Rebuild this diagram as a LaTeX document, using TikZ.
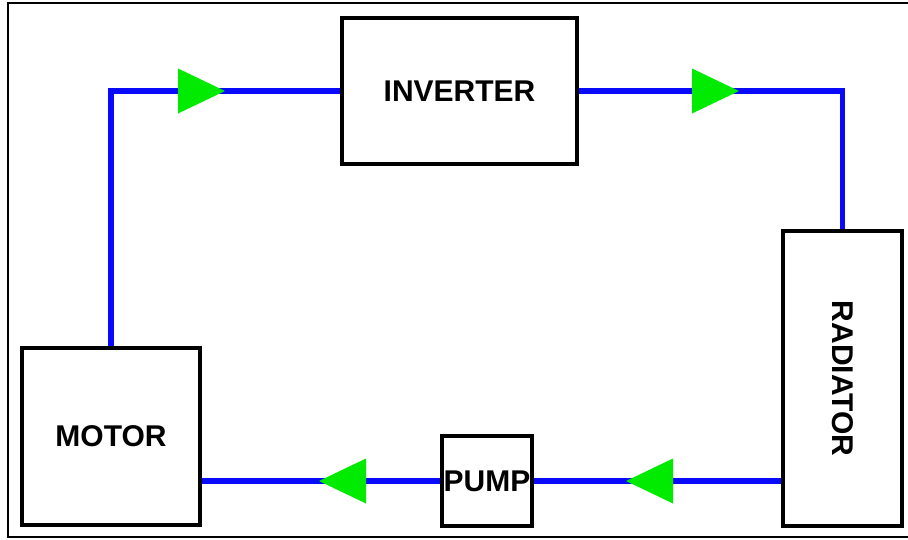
\documentclass[tikz,border=0pt]{standalone}
\usepackage{fontspec}
\setmainfont{Liberation Sans}
\definecolor{pipeblue}{RGB}{10,10,250}
\definecolor{flowgreen}{RGB}{0,235,0}
\tikzset{
  unit/.style={draw=black,line width=3.2pt,fill=white,inner sep=0pt,
    font=\bfseries\fontsize{30}{36}\selectfont},
  pipe/.style={draw=pipeblue,line width=5.5pt},
}
% green flow triangle: tip x, y, direction (1 right, -1 left)
\newcommand{\flowarrow}[3]{\fill[flowgreen] (#1,#2) -- ++({-47*#3},-22.5) -- ++(0,45) -- cycle;}
\begin{document}
\begin{tikzpicture}[x=1pt,y=-1pt]
\useasboundingbox (0,0) rectangle (908,539);
\clip (0,0) rectangle (908,539);
\draw[line width=2.5pt] (8,3) rectangle (920,537);

\node[unit,minimum width=178,minimum height=177] (motor) at (111,436.5) {MOTOR};
\node[unit,minimum width=235,minimum height=146] (inverter) at (459.5,91) {INVERTER};
\node[unit,minimum width=119,minimum height=295] (radiator) at (842.5,378.5) {};
\node[font=\bfseries\fontsize{30}{36}\selectfont,rotate=-90] at (radiator) {RADIATOR};
\node[unit,minimum width=90,minimum height=90] (pump) at (487,481) {PUMP};

\draw[pipe] (motor.north) |- (inverter.west);
\draw[pipe] (inverter.east) -| (radiator.north);
\draw[pipe] (radiator.west |- pump.east) -- (pump.east);
\draw[pipe] (pump.west) -- (motor.east |- pump.west);

\flowarrow{225}{91}{1}
\flowarrow{739}{91}{1}
\flowarrow{626}{481}{-1}
\flowarrow{319}{481}{-1}
\end{tikzpicture}
\end{document}
